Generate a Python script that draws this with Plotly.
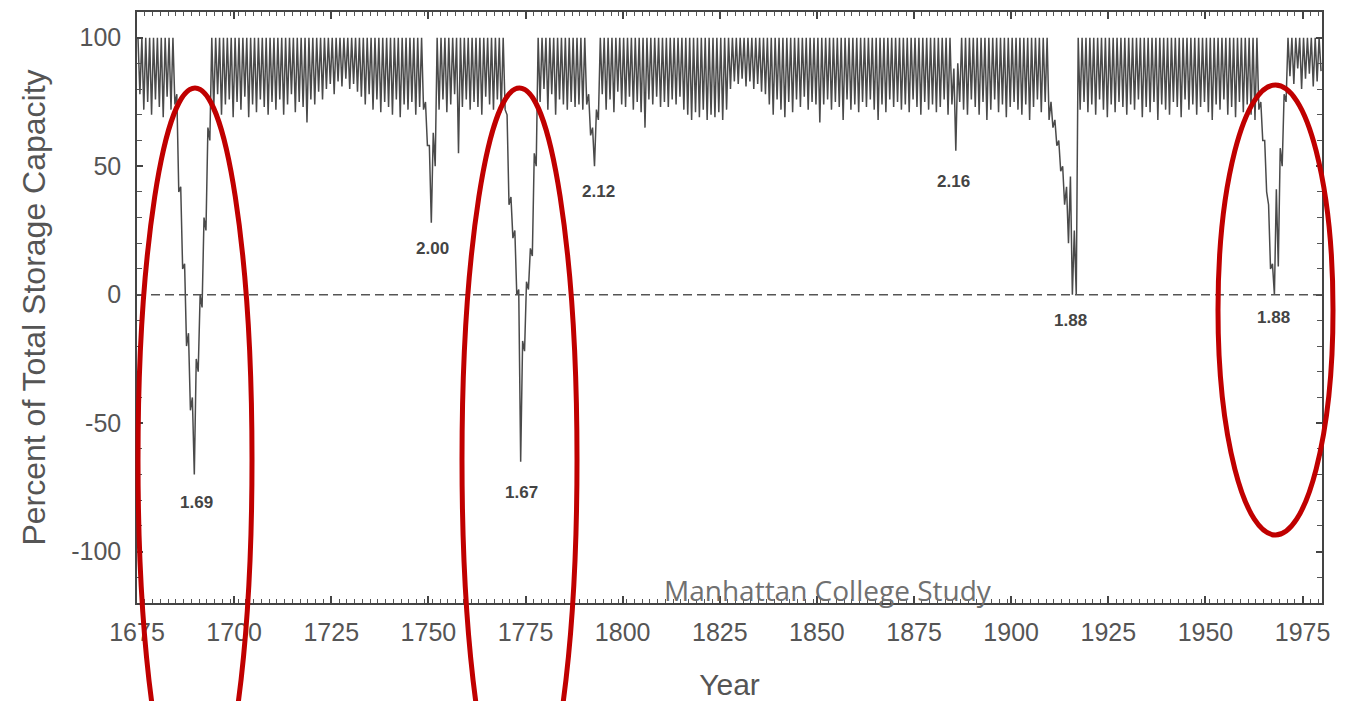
import plotly.graph_objects as go

# ---------------- data ----------------
start_year = 1675

# annual spring peak (% of total storage capacity), 1675-1979
annual_high = [
    100, 100, 100, 100, 100, 100, 100, 100, 100, 100,   # 1675-1684
    78, 42, 12, -15, -40, -25, 0, 30, 65, 100,          # 1685-1694
    100, 100, 100, 100, 100, 100, 100, 100, 100, 100,   # 1695-1704
    100, 100, 100, 100, 100, 100, 100, 100, 100, 100,   # 1705-1714
    100, 100, 100, 100, 100, 100, 100, 100, 100, 100,   # 1715-1724
    100, 100, 100, 100, 100, 100, 100, 100, 100, 100,   # 1725-1734
    100, 100, 100, 100, 100, 100, 100, 100, 100, 100,   # 1735-1744
    100, 100, 100, 100, 75, 58, 63, 100, 100, 100,      # 1745-1754
    100, 100, 100, 100, 100, 100, 100, 100, 100, 100,   # 1755-1764
    100, 100, 100, 100, 100, 70, 38, 25, 2, -18,        # 1765-1774
    5, 18, 55, 100, 100, 100, 100, 100, 100, 100,       # 1775-1784
    100, 100, 100, 100, 100, 100, 78, 65, 72, 100,      # 1785-1794
    100, 100, 100, 100, 100, 100, 100, 100, 100, 100,   # 1795-1804
    100, 100, 100, 100, 100, 100, 100, 100, 100, 100,   # 1805-1814
    100, 100, 100, 100, 100, 100, 100, 100, 100, 100,   # 1815-1824
    100, 100, 100, 100, 100, 100, 100, 100, 100, 100,   # 1825-1834
    100, 100, 100, 100, 100, 100, 100, 100, 100, 100,   # 1835-1844
    100, 100, 100, 100, 100, 100, 100, 100, 100, 100,   # 1845-1854
    100, 100, 100, 100, 100, 100, 100, 100, 100, 100,   # 1855-1864
    100, 100, 100, 100, 100, 100, 100, 100, 100, 100,   # 1865-1874
    100, 100, 100, 100, 100, 100, 100, 100, 100, 100,   # 1875-1884
    88, 90, 100, 100, 100, 100, 100, 100, 100, 100,     # 1885-1894
    100, 100, 100, 100, 100, 100, 100, 100, 100, 100,   # 1895-1904
    100, 100, 100, 100, 100, 75, 68, 60, 50, 42,        # 1905-1914
    46, 25, 100, 100, 100, 100, 100, 100, 100, 100,     # 1915-1924
    100, 100, 100, 100, 100, 100, 100, 100, 100, 100,   # 1925-1934
    100, 100, 100, 100, 100, 100, 100, 100, 100, 100,   # 1935-1944
    100, 100, 100, 100, 100, 100, 100, 100, 100, 100,   # 1945-1954
    100, 100, 100, 100, 100, 100, 100, 100, 100, 75,    # 1955-1964
    60, 35, 12, 41, 57, 78, 100, 100, 100, 100,         # 1965-1974
    100, 100, 100, 100, 100,                            # 1975-1979
]

# annual autumn low (% of total storage capacity), 1675-1979
annual_low = [
    78, 72, 75, 70, 76, 73, 69, 77, 72, 74,     # 1675-1684
    40, 10, -20, -45, -70, -30, -5, 25, 60, 72, # 1685-1694
    78, 70, 74, 76, 69, 75, 72, 77, 69, 74,     # 1695-1704
    71, 76, 73, 70, 75, 72, 76, 70, 74, 78,     # 1705-1714
    71, 75, 73, 67, 76, 74, 79, 76, 80, 82,     # 1715-1724
    78, 83, 81, 84, 80, 82, 79, 77, 74, 78,     # 1725-1734
    72, 76, 71, 75, 73, 70, 76, 69, 74, 72,     # 1735-1744
    75, 70, 73, 72, 58, 28, 50, 72, 76, 71,     # 1745-1754
    74, 78, 55, 73, 76, 72, 75, 73, 70, 77,     # 1755-1764
    74, 72, 76, 71, 72, 35, 22, 0, -65, -22,    # 1765-1774
    2, 15, 50, 75, 80, 72, 78, 70, 76, 74,      # 1775-1784
    72, 75, 73, 74, 72, 74, 62, 50, 68, 78,     # 1785-1794
    72, 76, 71, 79, 74, 73, 77, 72, 75, 71,     # 1795-1804
    65, 76, 74, 77, 73, 75, 73, 76, 74, 77,     # 1805-1814
    72, 70, 68, 71, 69, 72, 68, 70, 69, 71,     # 1815-1824
    68, 72, 80, 83, 82, 84, 81, 83, 80, 82,     # 1825-1834
    79, 78, 74, 70, 76, 72, 69, 75, 71, 76,     # 1835-1844
    73, 77, 72, 75, 74, 67, 74, 76, 72, 75,     # 1845-1854
    73, 68, 76, 72, 74, 71, 75, 73, 76, 72,     # 1855-1864
    68, 74, 71, 76, 73, 75, 72, 74, 71, 76,     # 1865-1874
    73, 70, 75, 72, 74, 71, 73, 76, 70, 74,     # 1875-1884
    56, 75, 72, 70, 76, 73, 70, 75, 68, 72,     # 1885-1894
    76, 71, 74, 69, 73, 75, 72, 70, 74, 68,     # 1895-1904
    73, 76, 71, 75, 68, 65, 58, 48, 35, 20,     # 1905-1914
    0, 0, 72, 75, 71, 74, 70, 76, 72, 69,       # 1915-1924
    74, 71, 75, 73, 70, 74, 72, 76, 69, 73,     # 1925-1934
    71, 75, 68, 74, 72, 70, 75, 73, 69, 76,     # 1935-1944
    72, 74, 70, 73, 75, 71, 68, 74, 72, 76,     # 1945-1954
    70, 73, 69, 75, 71, 74, 70, 68, 72, 60,     # 1955-1964
    40, 10, 0, 11, 50, 75, 85, 82, 88, 80,      # 1965-1974
    84, 86, 81, 83, 87,                         # 1975-1979
]

# drought minimum labels (text, year, value placement)
label_texts = ["1.69", "2.00", "1.67", "2.12", "2.16", "1.88", "1.88"]
label_years = [1690.2, 1751.0, 1773.9, 1793.7, 1885.1, 1915.3, 1967.6]
label_values = [-81, 18, -77, 40, 44, -10, -9]

x_ticks = [1675, 1700, 1725, 1750, 1775, 1800, 1825, 1850, 1875, 1900, 1925, 1950, 1975]
y_ticks = [-100, -50, 0, 50, 100]
y_tick_text = ["-100", "-50", "0", "50", "100"]

# ---------------- build series ----------------
xs, ys = [], []
for i, (hi, lo) in enumerate(zip(annual_high, annual_low)):
    yr = start_year + i
    xs += [yr + 0.25, yr + 0.75]
    ys += [hi, lo]

fig = go.Figure()
fig.add_trace(go.Scatter(x=xs, y=ys, mode="lines",
                         line=dict(color="#4a4a4a", width=1.5),
                         showlegend=False, hoverinfo="x+y"))

fig.add_hline(y=0, line=dict(color="#555555", width=1.5, dash="9px,5px"))

for t, xv, yv in zip(label_texts, label_years, label_values):
    fig.add_annotation(x=xv, y=yv, text="<b>%s</b>" % t, showarrow=False,
                       font=dict(family="Liberation Sans, Arial", size=17, color="#444444"))

# ---------------- layout geometry (pixels) ----------------
W, H = 1356, 701
L, R, T, B = 137, 34, 12, 98
pw, ph = W - L - R, H - T - B


def px(x):
    return (x - L) / pw


def py(y):
    return (H - B - y) / ph


ellipses = [(138, 252, 88, 832), (462, 577, 88, 832), (1218, 1333, 85, 535)]
for x0, x1, y0, y1 in ellipses:
    fig.add_shape(type="circle", xref="paper", yref="paper",
                  x0=px(x0), x1=px(x1), y0=py(y1), y1=py(y0),
                  line=dict(color="#c00000", width=5), layer="above")

fig.add_annotation(xref="paper", yref="paper", x=px(828), y=py(590),
                   xanchor="center", yanchor="middle",
                   text="Manhattan College Study", showarrow=False,
                   font=dict(family="Open Sans", size=28, color="#707070"))

axis_common = dict(
    showline=True, linecolor="#444444", linewidth=1.5, mirror="allticks",
    ticks="inside", tickcolor="#444444", tickwidth=1.5,
    showgrid=False, zeroline=False, automargin=False,
    tickfont=dict(family="Liberation Sans, Arial", size=25, color="#555555"),
)

fig.update_xaxes(
    range=[1675, 1980], tickvals=x_ticks, ticklen=7, ticklabelstandoff=6,
    minor=dict(ticks="inside", tick0=1675, dtick=2, ticklen=4,
               tickcolor="#555555", tickwidth=1),
    title=dict(text="Year", font=dict(family="Liberation Sans, Arial", size=30, color="#555555"),
               standoff=30),
    **axis_common)
fig.update_yaxes(
    range=[-120, 110], tickvals=y_ticks, ticktext=y_tick_text, ticklen=6, ticklabelstandoff=9,
    minor=dict(ticks="inside", dtick=10, ticklen=5, tickcolor="#555555", tickwidth=1),
    title=dict(text="Percent of Total Storage Capacity",
               font=dict(family="Liberation Sans, Arial", size=32, color="#555555"),
               standoff=16),
    **axis_common)

fig.update_layout(
    width=W, height=H,
    margin=dict(l=L, r=R, t=T, b=B, pad=0),
    paper_bgcolor="white", plot_bgcolor="white",
    showlegend=False,
)

fig.write_html("out.html", config={"displayModeBar": False},
               post_script="document.body.style.margin='0';")
